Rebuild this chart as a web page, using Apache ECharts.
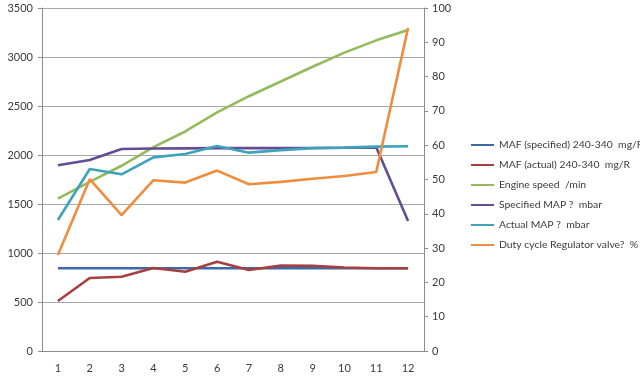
<!DOCTYPE html>
<html>
<head>
<meta charset="utf-8">
<script src="https://cdn.jsdelivr.net/npm/echarts@6/dist/echarts.min.js"></script>
<style>html,body{margin:0;padding:0;background:#fff}#c{width:640px;height:382px}</style>
</head>
<body>
<div id="c"></div>
<script>
const categories = ['1','2','3','4','5','6','7','8','9','10','11','12'];
const mafSpecified = [845,845,845,845,845,845,845,845,845,845,845,845];
const mafActual = [510,745,758,847,809,911,826,872,870,852,845,845];
const engineSpeed = [1555,1725,1890,2080,2240,2435,2600,2750,2900,3045,3170,3275];
const specifiedMap = [1895,1949,2061,2066,2068,2070,2070,2070,2072,2074,2078,1327];
const actualMap = [1337,1857,1803,1976,2010,2092,2024,2050,2070,2075,2085,2090];
const dutyCycle = [28.0,50.1,39.6,49.8,49.1,52.6,48.6,49.3,50.2,51.0,52.2,94.2];
const seriesNames = ['MAF (specified) 240-340  mg/R','MAF (actual) 240-340  mg/R','Engine speed  /min','Specified MAP ?  mbar','Actual MAP ?  mbar','Duty cycle Regulator valve?  %'];
const colors = ['#3B6AA6','#A6403F','#95BA5B','#634C92','#3FA2BD','#EF8D3F'];

const chart = echarts.init(document.getElementById('c'), null, {renderer:'canvas'});
const txt = {color:'#3a3a3a', fontSize:11, fontFamily:'Lato'};
const dataSets = [mafSpecified, mafActual, engineSpeed, specifiedMap, actualMap, dutyCycle];
chart.setOption({
  animation:false,
  color: colors,
  grid:{left:42, right:216, top:8, bottom:31},
  legend:{
    orient:'vertical', left:466, top:133, itemWidth:23, itemHeight:2, itemGap:6,
    icon:'rect',
    textStyle:Object.assign({}, txt, {fontSize:10.4, lineHeight:14}),
    data: seriesNames
  },
  xAxis:{
    type:'category', data:categories, boundaryGap:true,
    axisLine:{lineStyle:{color:'#8c8c8c'}},
    axisTick:{length:5, lineStyle:{color:'#8c8c8c'}},
    axisLabel:Object.assign({}, txt, {margin:12})
  },
  yAxis:[{
    type:'value', min:0, max:3500, interval:500,
    axisLine:{show:true, lineStyle:{color:'#8c8c8c'}},
    axisTick:{show:true, length:4, lineStyle:{color:'#8c8c8c'}},
    splitLine:{lineStyle:{color:'#a8a8a8'}},
    axisLabel:Object.assign({}, txt, {margin:9, formatter:(v)=>String(v)})
  },{
    type:'value', min:0, max:100, interval:10, position:'right',
    axisLine:{show:true, lineStyle:{color:'#8c8c8c'}},
    axisTick:{show:true, length:4, lineStyle:{color:'#8c8c8c'}},
    splitLine:{show:false},
    axisLabel:Object.assign({}, txt, {margin:8, formatter:(v)=>String(v)})
  }],
  series: seriesNames.map((n,i)=>({
    name:n, type:'line', data:dataSets[i], yAxisIndex: i===5?1:0,
    showSymbol:false, symbol:'none', lineStyle:{width:2.6, color:colors[i]}
  }))
});
</script>
</body>
</html>
